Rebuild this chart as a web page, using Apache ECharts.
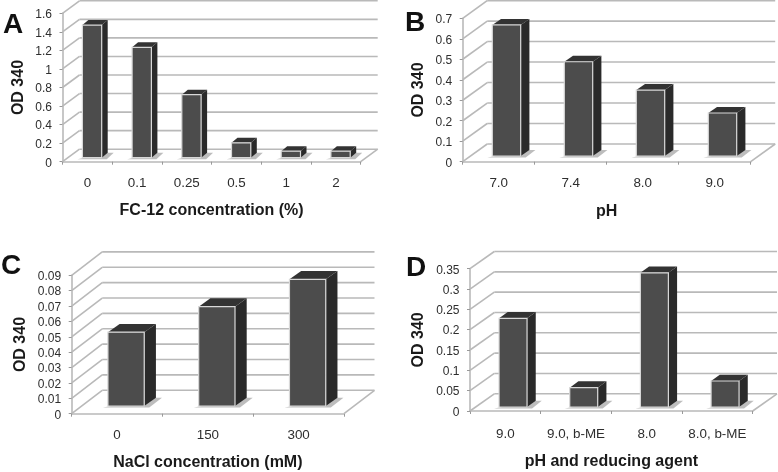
<!DOCTYPE html>
<html>
<head>
<meta charset="utf-8">
<style>html,body{margin:0;padding:0;background:#fff}#main{width:778px;height:472px}</style>
<script src="https://cdn.jsdelivr.net/npm/echarts@6/dist/echarts.min.js"></script>
</head>
<body>
<div id="main"></div>
<script>
// values
const catsA = ['0', '0.1', '0.25', '0.5', '1', '2'];
const valsA = [1.43, 1.19, 0.68, 0.16, 0.07, 0.07];
const ticksA = [0, 0.2, 0.4, 0.6, 0.8, 1, 1.2, 1.4, 1.6];

const catsB = ['7.0', '7.4', '8.0', '9.0'];
const valsB = [0.64, 0.46, 0.322, 0.21];
const ticksB = [0, 0.1, 0.2, 0.3, 0.4, 0.5, 0.6, 0.7];

const catsC = ['0', '150', '300'];
const valsC = [0.048, 0.0646, 0.0824];
const ticksC = [0, 0.01, 0.02, 0.03, 0.04, 0.05, 0.06, 0.07, 0.08, 0.09];

const catsD = ['9.0', '9.0, b-ME', '8.0', '8.0, b-ME'];
const valsD = [0.218, 0.0476, 0.33, 0.064];
const ticksD = [0, 0.05, 0.1, 0.15, 0.2, 0.25, 0.3, 0.35];

// layout of each panel: grid box, wall depth, bar size
const panels = [
  { letter: 'A', lx: 3, ly: 11, cats: catsA, vals: valsA, ticks: ticksA, step: 0.2, name: 'FC-12 concentration (%)',
    left: 62.5, right: 360.7, top: 13.3, bottom: 161.7, wallX: 17, wallY: 12.5, barW: 19.3, barX: 6, barY: 5, offX: 4.7, offY: 4, nameGap: 41, yGap: 36, labelGap: 15 },
  { letter: 'B', lx: 405, ly: 9, cats: catsB, vals: valsB, ticks: ticksB, step: 0.1, name: 'pH',
    left: 462.7, right: 750.7, top: 18.3, bottom: 161.7, wallX: 24.5, wallY: 17.7, barW: 28.4, barX: 8.7, barY: 6, offX: 7.8, offY: 5.7, nameGap: 42, yGap: 36, labelGap: 15 },
  { letter: 'C', lx: 1, ly: 252, cats: catsC, vals: valsC, ticks: ticksC, step: 0.01, name: 'NaCl concentration (mM)',
    left: 71.7, right: 344, top: 275.3, bottom: 413.7, wallX: 30.5, wallY: 23.4, barW: 36.3, barX: 11.7, barY: 8.3, offX: 9, offY: 7.7, nameGap: 41, yGap: 43, labelGap: 15 },
  { letter: 'D', lx: 406, ly: 254, cats: catsD, vals: valsD, ticks: ticksD, step: 0.05, name: 'pH and reducing agent',
    left: 470, right: 752.7, top: 268.7, bottom: 411, wallX: 24.3, wallY: 17.2, barW: 28, barX: 8.7, barY: 6.3, offX: 7.7, offY: 4, nameGap: 43, yGap: 43, labelGap: 16.5 }
];

const lineColor = '#b9b9b9';
const textColor = '#2e2e2e';
const font = '"Liberation Sans", Arial, sans-serif';

const grids = [], xAxes = [], yAxes = [], series = [], titles = [];

panels.forEach(function (p, i) {
  grids.push({ left: p.left, top: p.top, width: p.right - p.left, height: p.bottom - p.top });
  titles.push({ text: p.letter, left: p.lx, top: p.ly, padding: 0,
    textStyle: { fontSize: 28, fontWeight: 'bold', color: '#111', fontFamily: font } });
  xAxes.push({
    gridIndex: i, type: 'category', data: p.cats,
    name: p.name, nameLocation: 'middle', nameGap: p.nameGap,
    nameTextStyle: { fontSize: 16, fontWeight: 'bold', color: '#1a1a1a', fontFamily: font },
    axisLine: { lineStyle: { color: lineColor, width: 1.6 } },
    axisTick: { show: true, length: 3, lineStyle: { color: '#999' } },
    axisLabel: { fontSize: 13.4, color: textColor, fontFamily: font, margin: p.labelGap, interval: 0, hideOverlap: false },
    splitLine: { show: false }
  });
  yAxes.push({
    gridIndex: i, type: 'value', min: 0, max: p.ticks[p.ticks.length - 1], interval: p.step,
    name: 'OD 340', nameLocation: 'middle', nameGap: p.yGap, nameRotate: 90,
    nameTextStyle: { fontSize: 16, fontWeight: 'bold', color: '#1a1a1a', fontFamily: font },
    axisLine: { show: true, lineStyle: { color: lineColor, width: 1.6 } },
    axisTick: { show: true, length: 3, lineStyle: { color: '#999' } },
    axisLabel: { fontSize: 12, color: textColor, fontFamily: font, margin: 10.5, verticalAlign: 'top', lineHeight: 3 },
    splitLine: { show: false }
  });

  // back wall, side wall and floor
  series.push({
    type: 'custom', xAxisIndex: i, yAxisIndex: i, z: 1, silent: true,
    data: p.ticks.map(function (t) { return [0, t]; }),
    encode: { x: 0, y: 1 },
    renderItem: function (params, api) {
      const y = api.coord([0, api.value(1)])[1];
      const x0 = params.coordSys.x, x1 = x0 + params.coordSys.width;
      const style = { stroke: lineColor, lineWidth: 1.6, fill: null };
      const kids = [
        { type: 'line', shape: { x1: x0, y1: y, x2: x0 + p.wallX, y2: y - p.wallY }, style: style },
        { type: 'line', shape: { x1: x0 + p.wallX, y1: y - p.wallY, x2: x1 + p.wallX, y2: y - p.wallY }, style: style }
      ];
      if (api.value(1) === 0) {
        kids.push({ type: 'line', shape: { x1: x1, y1: y, x2: x1 + p.wallX, y2: y - p.wallY }, style: style });
      }
      return { type: 'group', children: kids };
    }
  });

  // the 3d bars
  series.push({
    type: 'custom', xAxisIndex: i, yAxisIndex: i, z: 3, silent: true,
    data: p.vals.map(function (v, k) { return [k, v]; }),
    encode: { x: 0, y: 1 },
    renderItem: function (params, api) {
      const top = api.coord([api.value(0), api.value(1)]);
      const base = api.coord([api.value(0), 0]);
      const w = p.barW, dx = p.barX, dy = p.barY;
      const l = base[0] + p.offX - w / 2, r = l + w;
      const by = base[1] - p.offY, ty = top[1] - p.offY;
      return { type: 'group', children: [
        { type: 'polygon', shape: { points: [[l - 5, by + 1.5], [r + 5, by + 1.5], [r + dx + 6, by - dy], [r + dx, by - dy]] },
          style: { fill: '#bdbdbd' } },
        { type: 'polygon', shape: { points: [[r, by], [r + dx, by - dy], [r + dx, ty - dy], [r, ty]] },
          style: { fill: '#2a2a2a' } },
        { type: 'polygon', shape: { points: [[l, ty], [l + dx, ty - dy], [r + dx, ty - dy], [r, ty]] },
          style: { fill: '#333333' } },
        { type: 'rect', shape: { x: l, y: ty, width: w, height: by - ty },
          style: { fill: '#4c4c4c', stroke: '#d8d8d8', lineWidth: 1.2 } }
      ] };
    }
  });
});

const chart = echarts.init(document.getElementById('main'), null, { renderer: 'canvas' });
chart.setOption({
  animation: false,
  backgroundColor: '#fff',
  title: titles,
  grid: grids,
  xAxis: xAxes,
  yAxis: yAxes,
  series: series
});
</script>
</body>
</html>
